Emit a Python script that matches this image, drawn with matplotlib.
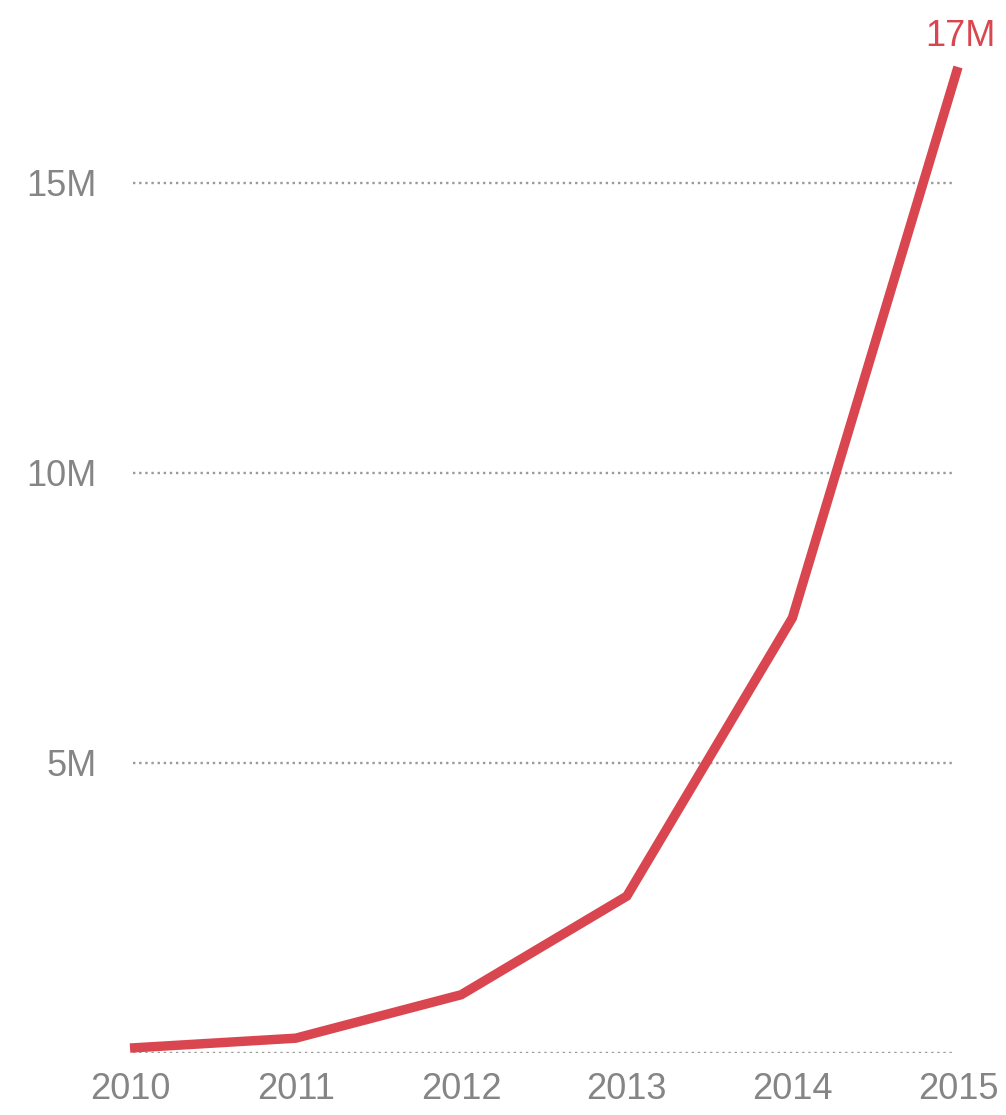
import matplotlib
matplotlib.use("Agg")
import matplotlib.pyplot as plt

years = [2010, 2011, 2012, 2013, 2014, 2015]
values_m = [0.08, 0.25, 1.0, 2.7, 7.5, 17.0]
ytick_vals = [0, 5, 10, 15]
ytick_labels = ["", "5M", "10M", "15M"]
end_label = "17M"

RED = "#D9464F"
GREY = "#858585"

plt.rcParams['font.family'] = ['Liberation Sans', 'DejaVu Sans']

fig = plt.figure(figsize=(10.06, 11.15), dpi=100)
ax = fig.add_axes([130/1006, 1 - 1052.7/1115, (958-130)/1006, (1052.7-67)/1115])
ax.set_xlim(years[0], years[-1])
ax.set_ylim(0, 17)

for v in ytick_vals:
    ax.axhline(v, color="#9A9A9A", linestyle=(0, (1, 1.6)), linewidth=1.7, zorder=1, xmin=0.004, xmax=0.996)

ax.plot(years, values_m, color=RED, linewidth=6.8, solid_capstyle='butt',
        solid_joinstyle='miter', clip_on=False, zorder=3)

ax.set_xticks(years)
ax.set_xticklabels([str(y) for y in years])
ax.set_yticks(ytick_vals)
ax.set_yticklabels(ytick_labels)
ax.tick_params(axis='x', length=0, pad=14, labelsize=26, labelcolor=GREY)
ax.tick_params(axis='y', length=0, pad=24, labelsize=26, labelcolor=GREY)
for s in ax.spines.values():
    s.set_visible(False)
ax.set_facecolor("none")

ax.annotate(end_label, (years[-1], values_m[-1]), xytext=(2, 9), textcoords='offset points',
            ha='center', va='bottom', fontsize=26, color=RED, annotation_clip=False)

fig.savefig("out.png", dpi=100)
